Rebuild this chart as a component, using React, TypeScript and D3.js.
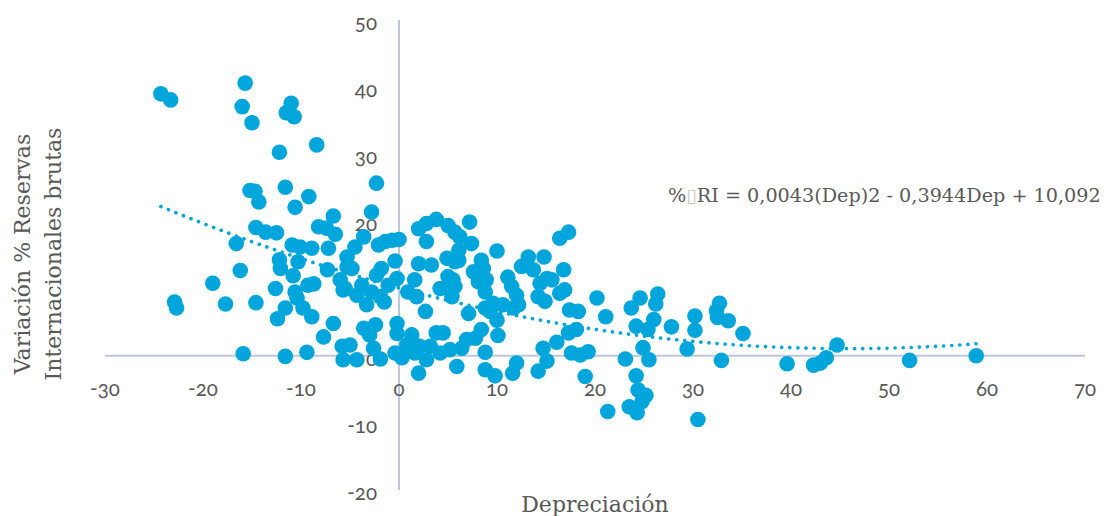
import React from "react";
import * as d3 from "d3";

const depreciacion: number[] = [
  -24.3, -23.3, -15.7, -16.0, -15.0, -11.0, -11.5, -10.7, -12.2, -8.4,
  -15.2, -14.7, -14.3, -11.6, -9.2, -10.6, -6.7, -14.6, -13.6, -12.5,
  -8.2, -7.4, -6.5, -16.6, -10.9, -10.1, -8.9, -7.2, -5.3, -12.2,
  -12.1, -10.3, -16.2, -10.8, -7.3, -19.0, -12.6, -9.3, -8.7, -10.6,
  -10.4, -9.8, -8.9, -17.7, -14.6, -11.6, -12.4, -6.7, -7.7, -15.9,
  -11.6, -9.4, -5.8, -5.7, -6.0, -5.7, -5.3, -22.9, -22.7, -2.3,
  -2.8, -3.6, -4.5, -2.1, -1.4, -0.7, 0.0, -0.4, -4.8, -1.8,
  -2.3, -0.2, -5.5, -3.8, -2.8, -1.9, -3.3, -3.6, -2.4, -3.0,
  -0.2, -0.2, -5.0, -4.3, -2.6, -1.9, -0.4, 0.3, 2.0, 2.8,
  3.8, 5.0, 5.7, 2.8, 4.9, 5.7, 2.0, 3.3, 1.6, 0.9,
  1.8, 2.7, 4.2, 5.0, 5.4, 3.8, 4.5, 1.3, 0.8, 2.1,
  3.2, 4.2, 5.2, 1.6, 2.8, 2.0, 5.9, 7.2, 6.2, 7.4,
  6.1, 6.1, 8.4, 10.0, 7.6, 8.6, 5.5, 8.1, 8.9, 5.7,
  8.8, 7.1, 8.8, 9.6, 10.6, 10.0, 9.3, 8.4, 10.1, 6.9,
  8.8, 8.8, 9.8, 12.0, 11.6, 11.1, 11.5, 12.0, 12.2, 11.7,
  12.5, 13.2, 13.7, 14.8, 14.4, 15.1, 15.6, 14.2, 14.9, 16.4,
  17.3, 16.8, 16.9, 16.4, 17.4, 18.3, 18.1, 17.3, 16.1, 14.7,
  17.6, 18.5, 15.1, 14.2, 19.0, 7.8, 6.4, 20.2, 21.1, 19.3,
  21.3, 23.7, 24.6, 26.4, 26.2, 24.2, 25.4, 26.0, 27.8, 24.9,
  25.5, 23.1, 24.2, 24.4, 25.2, 24.8, 23.5, 24.3, 30.2, 30.2,
  29.4, 30.5, 32.7, 32.4, 32.5, 33.6, 35.1, 32.9, 39.6, 42.3,
  43.0, 43.6, 44.7, 52.1, 58.9, -1.5, -1.1, -4.3,
];

const variacionRI: number[] = [
  39.0, 38.1, 40.6, 37.1, 34.7, 37.6, 36.2, 35.6, 30.3, 31.4,
  24.6, 24.5, 22.9, 25.1, 23.7, 22.1, 20.8, 19.1, 18.4, 18.3,
  19.2, 19.0, 18.1, 16.7, 16.5, 16.2, 16.0, 16.0, 14.7, 14.3,
  13.0, 14.0, 12.7, 11.9, 12.8, 10.8, 10.0, 10.5, 10.7, 9.5,
  8.6, 7.1, 5.8, 7.7, 7.9, 7.1, 5.5, 4.8, 2.8, 0.3,
  -0.1, 0.5, 1.4, -0.6, 11.3, 9.8, 13.2, 8.0, 7.1, 25.7,
  21.4, 17.7, 16.2, 16.5, 17.0, 17.2, 17.3, 14.1, 13.0, 13.0,
  12.0, 11.5, 10.0, 10.5, 9.5, 8.8, 7.6, 4.1, 4.6, 3.1,
  4.8, 3.3, 1.6, -0.6, 1.1, -0.5, 0.4, -0.3, 18.9, 19.7,
  20.3, 19.4, 18.4, 17.0, 14.5, 14.0, 13.7, 13.5, 11.3, 9.5,
  8.8, 6.6, 10.0, 11.8, 8.8, 3.4, 3.4, 3.1, 1.6, 1.4,
  1.4, 0.4, 0.9, 0.4, -0.6, -2.6, -1.6, 19.9, 17.7, 16.7,
  15.7, 14.2, 14.2, 15.6, 12.5, 13.0, 11.3, 11.0, 11.3, 10.3,
  9.5, 6.3, 7.1, 7.8, 7.6, 5.3, 6.6, 3.9, 3.0, 2.4,
  0.5, -2.1, -3.0, -1.1, -2.6, 11.7, 10.3, 9.0, 7.6, 7.1,
  13.3, 14.7, 12.8, 14.7, 10.8, 11.5, 11.3, 8.8, 8.1, 17.5,
  18.4, 12.8, 9.8, 9.3, 6.8, 6.6, 3.9, 3.4, 2.0, 1.1,
  0.4, 0.1, -0.8, -2.3, -3.1, 2.6, 1.1, 8.6, 5.8, 0.6,
  -8.3, 7.1, 8.6, 9.2, 7.7, 4.4, 3.9, 5.4, 4.3, 1.2,
  -0.6, -0.5, -3.0, -5.1, -5.9, -6.8, -7.6, -8.5, 5.9, 3.8,
  1.0, -9.5, 7.8, 6.7, 5.7, 5.2, 3.3, -0.7, -1.2, -1.4,
  -1.1, -0.3, 1.6, -0.7, 0.0, 8.0, 10.5, 9.0,
];

const xTicks: number[] = [-30, -20, -10, 0, 10, 20, 30, 40, 50, 60, 70];
const yTicks: number[] = [-20, -10, 0, 10, 20, 30, 40, 50];

// Polynomial trend (order 2) coefficients from the chart label
const trendCoef: number[] = [10.092, -0.3944, 0.0043];
const equationLabel = "RI = 0,0043(Dep)2 - 0,3944Dep + 10,092";

const xTitle = "Depreciación";
const yTitleLines: string[] = ["Variación % Reservas", "Internacionales brutas"];

const W = 1107;
const H = 516;

export default function App() {
  const x = d3.scaleLinear().domain([-30, 70]).range([105, 1085]);
  const y = d3.scaleLinear().domain([-20, 50]).range([490, 20]);

  const points = depreciacion.map((d, i) => ({ x: d, y: variacionRI[i] }));
  const xMin = d3.min(depreciacion) as number;
  const xMax = d3.max(depreciacion) as number;
  const trendPts = d3.range(0, 201).map((i) => {
    const xv = xMin + ((xMax - xMin) * i) / 200;
    return [xv, trendCoef[0] + trendCoef[1] * xv + trendCoef[2] * xv * xv] as [number, number];
  });
  const line = d3
    .line<[number, number]>()
    .x((d) => x(d[0]))
    .y((d) => y(d[1]));

  const axisColor = "#bcc6dc";
  const textColor = "#595959";
  const dotColor = "#00a6db";
  const tickFont = "Lato, 'Open Sans', sans-serif";
  const serifFont = "'DejaVu Serif', serif";

  return (
    <svg
      width={W}
      height={H}
      style={{ position: "absolute", left: 0, top: 0, display: "block", background: "#fff" }}
    >
      {/* axes */}
      <line x1={x(-30)} x2={x(70)} y1={y(0)} y2={y(0)} stroke={axisColor} strokeWidth={2} />
      <line x1={x(0)} x2={x(0)} y1={y(50)} y2={y(-20)} stroke={axisColor} strokeWidth={2} />

      {/* tick labels */}
      {xTicks.map((t) => (
        <text
          key={"x" + t}
          x={x(t)}
          y={388}
          textAnchor="middle"
          dominantBaseline="central"
          fontFamily={tickFont}
          fontSize={20.5}
          fill={textColor}
          style={{ fontVariantNumeric: "oldstyle-nums" }}
        >
          {t}
        </text>
      ))}
      {yTicks.map((t) => (
        <text
          key={"y" + t}
          x={377}
          y={y(t) + 2}
          textAnchor="end"
          dominantBaseline="central"
          fontFamily={tickFont}
          fontSize={20.5}
          fill={textColor}
          style={{ fontVariantNumeric: "oldstyle-nums" }}
        >
          {t}
        </text>
      ))}

      {/* points */}
      {points.map((p, i) => (
        <circle key={i} cx={x(p.x)} cy={y(p.y)} r={7.8} fill={dotColor} />
      ))}

      {/* trend line */}
      <path
        d={line(trendPts) || ""}
        fill="none"
        stroke={dotColor}
        strokeWidth={3.6}
        strokeLinecap="round"
        strokeDasharray="0.1 8"
      />

      {/* equation */}
      <text x={668} y={195} dominantBaseline="central" fontFamily={serifFont} fontSize={19.2} fill={textColor}>
        %<tspan fill="#c8c8c8" fontFamily="'DejaVu Sans', sans-serif">▯</tspan>
        {equationLabel}
      </text>

      {/* axis titles */}
      <text
        x={595}
        y={504}
        textAnchor="middle"
        dominantBaseline="central"
        fontFamily={serifFont}
        fontSize={22}
        fill={textColor}
      >
        {xTitle}
      </text>
      {yTitleLines.map((ln, i) => (
        <text
          key={ln}
          transform={`translate(${22 + i * 31},254) rotate(-90)`}
          textAnchor="middle"
          dominantBaseline="central"
          fontFamily={serifFont}
          fontSize={22}
          fill={textColor}
        >
          {ln}
        </text>
      ))}
    </svg>
  );
}
